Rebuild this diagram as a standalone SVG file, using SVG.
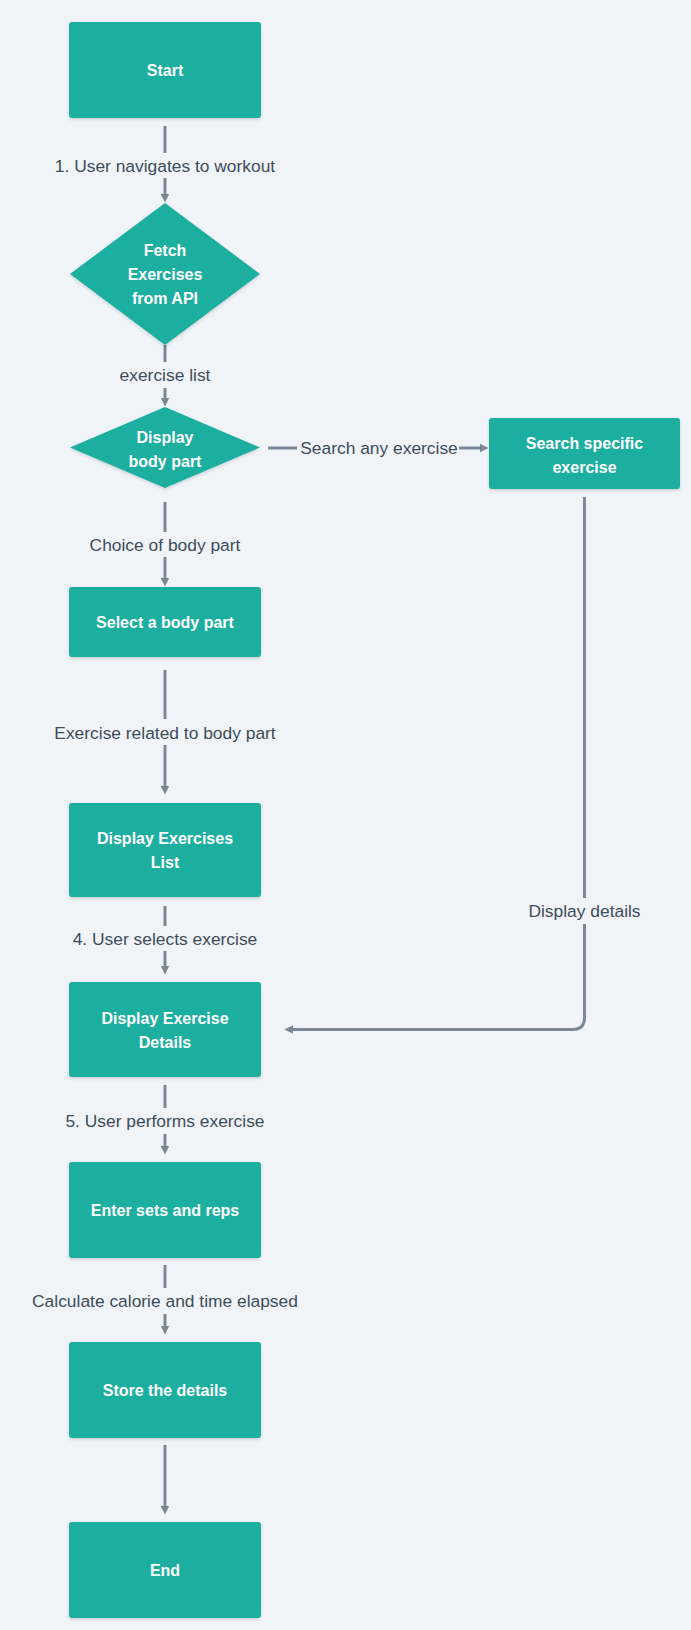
<svg xmlns="http://www.w3.org/2000/svg" width="691" height="1630" viewBox="0 0 691 1630">
<defs>
<style>
.node{fill:#1AAE9F;filter:url(#sh)}
.nt{fill:#FFFFFF;font-family:"Liberation Sans",Arial,sans-serif;font-weight:bold;font-size:16px;text-anchor:middle}
.lt{fill:#3E4C59;font-family:"Liberation Sans",Arial,sans-serif;font-size:17.4px;text-anchor:middle}
.ln{fill:none;stroke:#7B8794;stroke-width:3}
.ar{marker-end:url(#ah)}
</style>
<filter id="sh" x="-10%" y="-10%" width="120%" height="130%">
<feDropShadow dx="0" dy="1.5" stdDeviation="1.5" flood-color="#000000" flood-opacity="0.15"/>
</filter>
<marker id="ah" viewBox="0 0 10 10" refX="0.5" refY="5" markerWidth="9" markerHeight="13" markerUnits="userSpaceOnUse" orient="auto">
<path d="M0,0 L10,5 L0,10 z" fill="#7B8794"/>
</marker>
</defs>
<rect x="0" y="0" width="691" height="1630" fill="#F0F4F8"/>

<g id="connectors">
<line class="ln" x1="165" y1="126" x2="165" y2="153"/>
<line class="ln ar" x1="165" y1="178" x2="165" y2="194"/>
<text class="lt" x="165" y="172">1. User navigates to workout</text>

<line class="ln" x1="165" y1="345" x2="165" y2="362"/>
<line class="ln ar" x1="165" y1="388" x2="165" y2="398"/>
<text class="lt" x="165" y="381">exercise list</text>

<line class="ln" x1="268" y1="448" x2="297" y2="448"/>
<line class="ln ar" x1="459" y1="448" x2="480" y2="448"/>
<text class="lt" x="379" y="454">Search any exercise</text>

<line class="ln" x1="165" y1="502" x2="165" y2="532"/>
<line class="ln ar" x1="165" y1="557" x2="165" y2="578"/>
<text class="lt" x="165" y="551">Choice of body part</text>

<line class="ln" x1="165" y1="670" x2="165" y2="719"/>
<line class="ln ar" x1="165" y1="745" x2="165" y2="786"/>
<text class="lt" x="165" y="739">Exercise related to body part</text>

<line class="ln" x1="165" y1="906" x2="165" y2="926"/>
<line class="ln ar" x1="165" y1="951" x2="165" y2="966"/>
<text class="lt" x="165" y="945">4. User selects exercise</text>

<line class="ln" x1="584.5" y1="497" x2="584.5" y2="898"/>
<path class="ln ar" d="M584.5,924 L584.5,1017.5 Q584.5,1029.5 572.5,1029.5 L293,1029.5"/>
<text class="lt" x="584.5" y="917">Display details</text>

<line class="ln" x1="165" y1="1085" x2="165" y2="1108"/>
<line class="ln ar" x1="165" y1="1134" x2="165" y2="1146"/>
<text class="lt" x="165" y="1127">5. User performs exercise</text>

<line class="ln" x1="165" y1="1265" x2="165" y2="1288"/>
<line class="ln ar" x1="165" y1="1314" x2="165" y2="1326"/>
<text class="lt" x="165" y="1307">Calculate calorie and time elapsed</text>

<line class="ln ar" x1="165" y1="1445" x2="165" y2="1506"/>
</g>

<g id="start">
<rect class="node" x="69" y="22" width="192" height="96" rx="3"/>
<text class="nt" x="165" y="76">Start</text>
</g>

<g id="fetch">
<polygon class="node" points="165,203 260,274 165,345 70,274"/>
<text class="nt" x="165" y="256">Fetch</text>
<text class="nt" x="165" y="280">Exercises</text>
<text class="nt" x="165" y="304">from API</text>
</g>

<g id="display-body-part">
<polygon class="node" points="165,407 260,447.5 165,488 70,447.5"/>
<text class="nt" x="165" y="443">Display</text>
<text class="nt" x="165" y="467">body part</text>
</g>

<g id="search">
<rect class="node" x="489" y="418" width="191" height="71" rx="3"/>
<text class="nt" x="584.5" y="449">Search specific</text>
<text class="nt" x="584.5" y="473">exercise</text>
</g>

<g id="select">
<rect class="node" x="69" y="587" width="192" height="70" rx="3"/>
<text class="nt" x="165" y="628">Select a body part</text>
</g>

<g id="list">
<rect class="node" x="69" y="803" width="192" height="94" rx="3"/>
<text class="nt" x="165" y="844">Display Exercises</text>
<text class="nt" x="165" y="868">List</text>
</g>

<g id="details">
<rect class="node" x="69" y="982" width="192" height="95" rx="3"/>
<text class="nt" x="165" y="1024">Display Exercise</text>
<text class="nt" x="165" y="1048">Details</text>
</g>

<g id="enter">
<rect class="node" x="69" y="1162" width="192" height="96" rx="3"/>
<text class="nt" x="165" y="1216">Enter sets and reps</text>
</g>

<g id="store">
<rect class="node" x="69" y="1342" width="192" height="96" rx="3"/>
<text class="nt" x="165" y="1396">Store the details</text>
</g>

<g id="end">
<rect class="node" x="69" y="1522" width="192" height="96" rx="3"/>
<text class="nt" x="165" y="1576">End</text>
</g>
</svg>
